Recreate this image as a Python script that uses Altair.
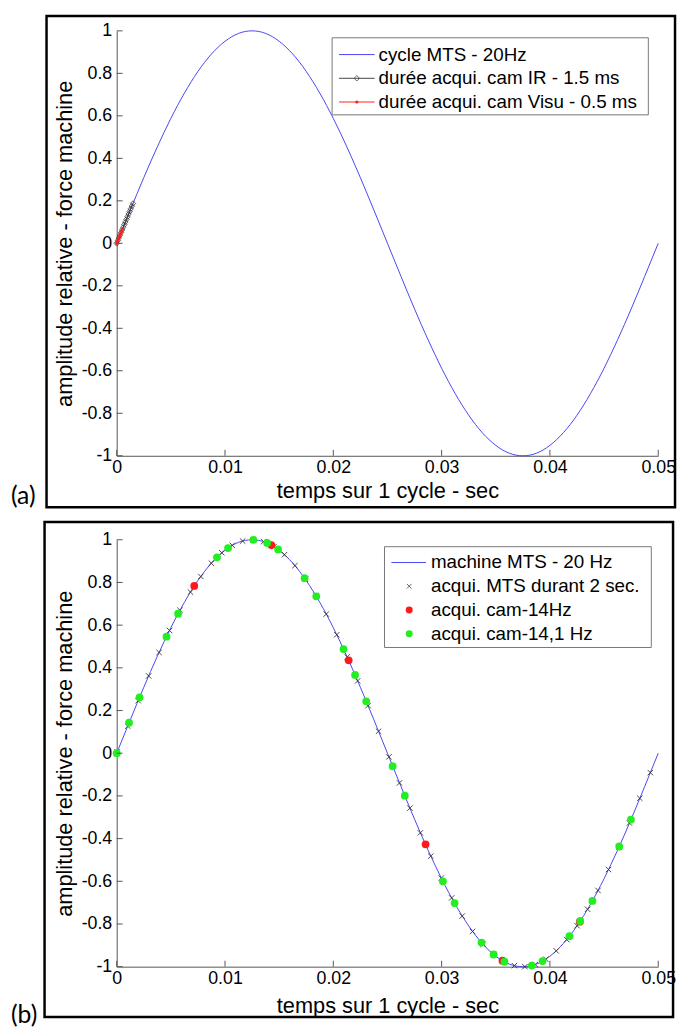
import altair as alt
import pandas as pd

# ---------------- data ----------------
# reference cycle (20 Hz)
cycle_t = [0.0, 0.00125, 0.0025, 0.00375, 0.005, 0.00625, 0.0075, 0.00875, 0.01, 0.01125,
           0.0125, 0.01375, 0.015, 0.01625, 0.0175, 0.01875, 0.02, 0.02125, 0.0225, 0.02375,
           0.025, 0.02625, 0.0275, 0.02875, 0.03, 0.03125, 0.0325, 0.03375, 0.035, 0.03625,
           0.0375, 0.03875, 0.04, 0.04125, 0.0425, 0.04375, 0.045, 0.04625, 0.0475, 0.04875, 0.05]
cycle_v = [0.0, 0.156, 0.309, 0.454, 0.588, 0.707, 0.809, 0.891, 0.951, 0.988,
           1.0, 0.988, 0.951, 0.891, 0.809, 0.707, 0.588, 0.454, 0.309, 0.156,
           0.0, -0.156, -0.309, -0.454, -0.588, -0.707, -0.809, -0.891, -0.951, -0.988,
           -1.0, -0.988, -0.951, -0.891, -0.809, -0.707, -0.588, -0.454, -0.309, -0.156, 0.0]

# panel (a): IR camera acquisition window (1.5 ms) and visible camera (0.5 ms)
ir_t = [0.0, 0.0001, 0.0002, 0.0003, 0.0004, 0.0005, 0.0006, 0.0007, 0.0008, 0.0009,
        0.0010, 0.0011, 0.0012, 0.0013, 0.0014, 0.0015]
ir_v = [0.0, 0.0126, 0.0251, 0.0377, 0.0502, 0.0628, 0.0753, 0.0878, 0.1002, 0.1126,
        0.1253, 0.1378, 0.1502, 0.1626, 0.1750, 0.1874]
visu_t = [0.0, 0.0001, 0.0002, 0.0003, 0.0004, 0.0005]
visu_v = [0.0, 0.0126, 0.0251, 0.0377, 0.0502, 0.0628]

# panel (b): MTS samples over 2 s folded on one cycle
mts_t = [0.00005, 0.00102, 0.00198, 0.00295, 0.00391, 0.00488, 0.00584, 0.00681, 0.00777, 0.00874,
         0.00970, 0.01067, 0.01163, 0.01260, 0.01356, 0.01453, 0.01549, 0.01646, 0.01742, 0.01839,
         0.01935, 0.02032, 0.02128, 0.02225, 0.02321, 0.02418, 0.02514, 0.02611, 0.02707, 0.02804,
         0.02900, 0.02997, 0.03093, 0.03190, 0.03286, 0.03383, 0.03479, 0.03576, 0.03672, 0.03769,
         0.03865, 0.03962, 0.04058, 0.04155, 0.04251, 0.04348, 0.04444, 0.04541, 0.04637, 0.04734,
         0.04830, 0.04927]
mts_v = [0.006, 0.127, 0.246, 0.362, 0.472, 0.575, 0.670, 0.755, 0.828, 0.890,
         0.939, 0.974, 0.994, 1.000, 0.991, 0.968, 0.930, 0.879, 0.815, 0.739,
         0.652, 0.555, 0.451, 0.339, 0.223, 0.103, -0.017, -0.139, -0.257, -0.373,
         -0.482, -0.585, -0.678, -0.763, -0.835, -0.895, -0.943, -0.976, -0.995, -1.000,
         -0.990, -0.965, -0.926, -0.873, -0.808, -0.731, -0.643, -0.545, -0.440, -0.327,
         -0.211, -0.091]

cam14_t = [0.00716, 0.01428, 0.02142, 0.02852, 0.03562, 0.04276]
cam14_v = [0.784, 0.975, 0.435, -0.427, -0.972, -0.789]

cam141_t = [0.0, 0.00114, 0.00211, 0.0046, 0.00567, 0.00926, 0.01028, 0.01262, 0.01389, 0.0149,
            0.01735, 0.01843, 0.02094, 0.02201, 0.02304, 0.02548, 0.0266, 0.03012, 0.0312, 0.03368,
            0.0348, 0.0358, 0.03832, 0.03932, 0.0418, 0.0428, 0.04392, 0.0464, 0.04748]
cam141_v = [0.0, 0.143, 0.262, 0.546, 0.654, 0.918, 0.961, 1.0, 0.985, 0.955,
            0.820, 0.735, 0.488, 0.367, 0.243, -0.061, -0.199, -0.600, -0.702, -0.887,
            -0.943, -0.977, -0.995, -0.974, -0.857, -0.786, -0.692, -0.437, -0.311]

x_ticks = [0.0, 0.01, 0.02, 0.03, 0.04, 0.05]
y_ticks = [-1.0, -0.8, -0.6, -0.4, -0.2, 0.0, 0.2, 0.4, 0.6, 0.8, 1.0]

legend_a = ["cycle MTS - 20Hz", "durée acqui. cam IR - 1.5 ms", "durée acqui. cam Visu - 0.5 ms"]
legend_b = ["machine MTS - 20 Hz", "acqui. MTS durant 2 sec.", "acqui. cam-14Hz", "acqui. cam-14,1 Hz"]

x_title = "temps sur 1 cycle - sec"
y_title = "amplitude relative - force machine"

# ---------------- style ----------------
W = 548
HA = 430
HB = 432
BLUE = "#4646f5"
AXC = "#555555"
FONT = "Liberation Sans"
GREEN = "#22ee22"
RED = "#ff1a1a"

one = pd.DataFrame({"d": [0]})


def df(t, v):
    return pd.DataFrame({"t": t, "v": v})


xscale = alt.Scale(domain=[0, 0.05], nice=False, zero=False)
yscale = alt.Scale(domain=[-1, 1], nice=False, zero=False)


def make_enc(H, title_y):
    xa = alt.Axis(values=x_ticks, labelExpr="'' + datum.value", title=x_title, ticks=False,
                  grid=False, titleY=title_y, titleX=W / 2, titleBaseline="middle",
                  labelPadding=3, labelFlush=False, domainColor=AXC)
    ya = alt.Axis(values=y_ticks, labelExpr="'' + datum.value", title=y_title, ticks=False,
                  grid=False, titleX=-53, titleY=H / 2, titleBaseline="middle",
                  labelPadding=5, domainColor=AXC)
    X = alt.X("t:Q", scale=xscale, axis=xa)
    Y = alt.Y("v:Q", scale=yscale, axis=ya)
    return X, Y


def tick_layers(H, X, Y):
    yt = alt.Chart(pd.DataFrame({"v": y_ticks})).mark_rule(color=AXC, strokeWidth=1).encode(
        y=Y, x=alt.value(0), x2=alt.value(6))
    xt = alt.Chart(pd.DataFrame({"t": x_ticks})).mark_rule(color=AXC, strokeWidth=1).encode(
        x=X, y=alt.value(H), y2=alt.value(H - 6))
    return [yt, xt]


def frame(x0, x1, y0, y1):
    return alt.Chart(one).mark_rect(fill=None, stroke="black", strokeWidth=2.5).encode(
        x=alt.value(x0), x2=alt.value(x1), y=alt.value(y0), y2=alt.value(y1))


def tag(text, x, y):
    return alt.Chart(one).mark_text(align="left", baseline="middle", font="Lato",
                                    fontSize=25, color="black").encode(
        x=alt.value(x), y=alt.value(y), text=alt.value(text))


def box(x0, x1, y0, y1):
    return alt.Chart(one).mark_rect(fill="white", stroke="#777777", strokeWidth=1).encode(
        x=alt.value(x0), x2=alt.value(x1), y=alt.value(y0), y2=alt.value(y1))


def seg(x0, x1, y, color):
    return alt.Chart(one).mark_rule(color=color, strokeWidth=1).encode(
        x=alt.value(x0), x2=alt.value(x1), y=alt.value(y))


def sym(x, y, **kw):
    return alt.Chart(one).mark_point(**kw).encode(x=alt.value(x), y=alt.value(y))


def label(text, x, y, size=19):
    return alt.Chart(one).mark_text(align="left", baseline="middle", font=FONT,
                                    fontSize=size, color="black").encode(
        x=alt.value(x), y=alt.value(y), text=alt.value(text))


XSHAPE = "M-1,-1L1,1M-1,1L1,-1"

# ---------------- panel (a) ----------------
XA, YA = make_enc(HA, 35)
a_layers = [
    frame(-71, 565, -15, 482),
    tag("(a)", -107, 471),
    alt.Chart(df(cycle_t, cycle_v)).mark_line(color=BLUE, strokeWidth=1, interpolate="natural").encode(x=XA, y=YA),
    alt.Chart(df(ir_t, ir_v)).mark_line(color="#333333", strokeWidth=1).encode(x=XA, y=YA),
    alt.Chart(df(ir_t, ir_v)).mark_point(shape="diamond", filled=False, color="#333333",
                                         size=30, strokeWidth=0.8, opacity=1).encode(x=XA, y=YA),
    alt.Chart(df(visu_t, visu_v)).mark_line(color="#ff2020", strokeWidth=1.5).encode(x=XA, y=YA),
    alt.Chart(df(visu_t, visu_v)).mark_point(shape="circle", filled=True, color="#ff2020",
                                             size=12, opacity=1).encode(x=XA, y=YA),
] + tick_layers(HA, XA, YA) + [
    box(218, 538, 7, 85),
    seg(225, 261, 24, BLUE),
    seg(225, 261, 48, "#444444"),
    sym(243, 48, shape="diamond", filled=False, color="#444444", size=30, strokeWidth=0.8, opacity=1),
    seg(225, 261, 72, "#ff2020"),
    sym(243, 72, shape="circle", filled=True, color="#ff2020", size=10, opacity=1),
    label(legend_a[0], 265, 24),
    label(legend_a[1], 265, 48),
    label(legend_a[2], 265, 72),
]
chart_a = alt.layer(*a_layers).properties(width=W, height=HA)

# ---------------- panel (b) ----------------
XB, YB = make_enc(HB, 39)
b_layers = [
    frame(-73, 563, -18, 483),
    tag("(b)", -107, 481),
    alt.Chart(df(cycle_t, cycle_v)).mark_line(color=BLUE, strokeWidth=1, interpolate="natural").encode(x=XB, y=YB),
    alt.Chart(df(mts_t, mts_v)).mark_point(shape=XSHAPE, filled=False, color="#333333",
                                           size=30, strokeWidth=0.9, opacity=1).encode(x=XB, y=YB),
    alt.Chart(df(cam14_t, cam14_v)).mark_circle(color=RED, size=62, opacity=1).encode(x=XB, y=YB),
    alt.Chart(df(cam141_t, cam141_v)).mark_circle(color=GREEN, size=62, opacity=1).encode(x=XB, y=YB),
] + tick_layers(HB, XB, YB) + [
    box(271, 541, 7, 109),
    seg(278, 313, 23, BLUE),
    sym(296, 47, shape=XSHAPE, filled=False, color="#555555", size=22, strokeWidth=0.9, opacity=1),
    sym(296, 71, shape="circle", filled=True, color=RED, size=50, opacity=1),
    sym(296, 95, shape="circle", filled=True, color=GREEN, size=50, opacity=1),
    label(legend_b[0], 318, 23),
    label(legend_b[1], 318, 47),
    label(legend_b[2], 318, 71),
    label(legend_b[3], 318, 95),
]
chart_b = alt.layer(*b_layers).properties(width=W, height=HB)

chart = alt.vconcat(chart_a, chart_b, spacing=11).properties(
    padding={"left": 3, "top": 0, "right": 0, "bottom": 0}
).configure_view(stroke=None).configure_axis(
    labelFont=FONT, labelFontSize=18, labelColor="black",
    titleFont=FONT, titleFontSize=22, titleFontWeight="normal", titleColor="black",
    domainWidth=1,
)

chart.save("out.html", embed_options={"renderer": "svg", "actions": False})
